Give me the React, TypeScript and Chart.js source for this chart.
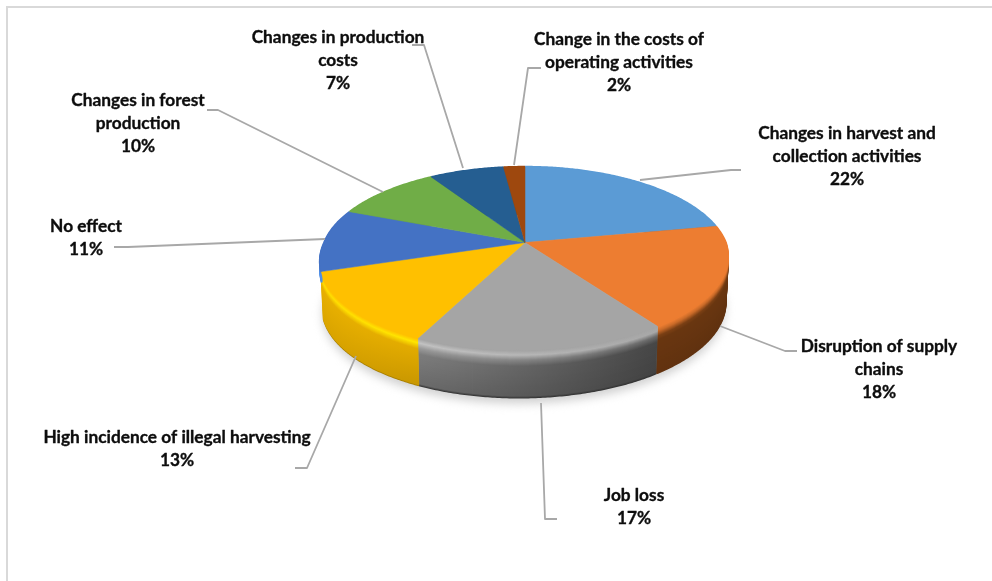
import React, { useEffect, useRef } from "react";
import { Chart, registerables } from "chart.js";

Chart.register(...registerables);

// Share of respondents per reported effect, clockwise from twelve o'clock.
const categories = [
  "Changes in harvest and collection activities",
  "Disruption of supply chains",
  "Job loss",
  "High incidence of illegal harvesting",
  "No effect",
  "Changes in forest production",
  "Changes in production costs",
  "Change in the costs of operating activities",
];
const shares = [22, 18, 17, 13, 11, 10, 7, 2];
const faceColors = ["#5b9bd5", "#ed7d31", "#a5a5a5", "#ffc000", "#4472c4", "#70ad47", "#255e91", "#9e480e"];

// Wrapped label text for each category.
const labelLines = [
  ["Changes in harvest and", "collection activities"],
  ["Disruption of supply", "chains"],
  ["Job loss"],
  ["High incidence of illegal harvesting"],
  ["No effect"],
  ["Changes in forest", "production"],
  ["Changes in production", "costs"],
  ["Change in the costs of", "operating activities"],
];
// Centre x and first-line centre y of every label block.
const labelAnchors = [
  [847, 133], [879, 346], [634, 495], [177, 437],
  [86, 226], [138, 100], [338, 37], [619, 39],
];
// Leader line vertices, from the pie outwards.
const leaders = [
  [[640, 180], [731, 170], [741, 170]],
  [[720, 326], [785, 351], [797, 351]],
  [[541, 403], [545, 519], [557, 519]],
  [[356, 356], [307, 468], [295, 468]],
  [[325, 239], [128, 247], [114, 247]],
  [[383, 192], [218, 110], [207, 110]],
  [[463, 168], [424, 45], [412, 45]],
  [[514, 165], [528, 68], [541, 68]],
];

type Stop = [number, string, string];
const hex = (c: string) => [1, 3, 5].map((i) => parseInt(c.slice(i, i + 2), 16));
const mix = (a: string, b: string, t: number) => {
  const x = hex(a), y = hex(b);
  return `rgb(${x.map((v, i) => Math.round(v + (y[i] - v) * t)).join(",")})`;
};

// Rim shading per slice: [drop below the face, colour at the slice's left, colour at its right].
const rimShades: Stop[][] = [
  [[0, "#5b9bd5", "#5b9bd5"], [2, "#4a6f90", "#4a6f90"], [47, "#2f5578", "#2f5578"]],
  [[0, "#ed7d31", "#ed7d31"], [4, "#c96a28", "#c96a28"], [9, "#7a3f14", "#7a3f14"], [13, "#693610", "#693610"], [47, "#62320f", "#5f310f"]],
  [[0, "#a5a5a5", "#a5a5a5"], [4, "#c2c2c2", "#a8a8a8"], [9, "#9a9a9a", "#6a6a6a"], [15, "#7d7d7d", "#464646"], [45, "#6b6b6b", "#424242"], [47, "#3a3a3a", "#333333"]],
  [[0, "#ffc000", "#ffc000"], [4, "#ffdd00", "#ffe600"], [10, "#e8b000", "#e2ab00"], [46, "#dba500", "#c99700"], [47, "#a98000", "#a98000"]],
  [[0, "#4472c4", "#4472c4"], [3, "#4f8fe6", "#4f8fe6"], [47, "#4680d8", "#4680d8"]],
  [[0, "#70ad47", "#70ad47"], [47, "#4c7530", "#4c7530"]],
  [[0, "#255e91", "#255e91"], [47, "#173a5a", "#173a5a"]],
  [[0, "#9e480e", "#9e480e"], [47, "#62300a", "#62300a"]],
];
// Visible wall height per slice; the left blue slice only shows a thin edge.
const wallHeights = [47, 47, 47, 47, 11, 47, 47, 47];

const shadeAt = (stops: Stop[], d: number, side: 1 | 2) => {
  for (let i = 1; i < stops.length; i++) {
    if (d <= stops[i][0]) {
      const t = (d - stops[i - 1][0]) / (stops[i][0] - stops[i - 1][0]);
      return mix(stops[i - 1][side], stops[i][side], t);
    }
  }
  return stops[stops.length - 1][side];
};

// Perspective projection of the pie's unit circle onto the tilted disc.
const APEX_X = 525;
const APEX_Y = 242.5;
const TILT = -0.1758;
const RX = 200.8;
const RY = 89;
const FRONT_LEAN = 6;
const DEPTH = 47;

const project = (angle: number, drop = 0) => {
  const u = Math.cos(angle);
  const v = Math.sin(angle);
  const w = 1 + TILT * v;
  const taper = 1 - 0.012 * (drop / DEPTH);
  const lean = FRONT_LEAN * Math.max(0, v);
  return [APEX_X + (RX * taper * u) / w - lean, APEX_Y + (RY * v) / w + drop];
};

const arcPoints = (start: number, end: number, drop = 0) => {
  const n = Math.max(2, Math.ceil((end - start) / 0.01));
  const pts: number[][] = [];
  for (let i = 0; i <= n; i++) pts.push(project(start + ((end - start) * i) / n, drop));
  return pts;
};

const tracePoints = (ctx: CanvasRenderingContext2D, pts: number[][], joined = false) => {
  pts.forEach(([x, y], i) => (i || joined ? ctx.lineTo(x, y) : ctx.moveTo(x, y)));
};

const traceWedge = (ctx: CanvasRenderingContext2D, start: number, end: number) => {
  ctx.beginPath();
  ctx.moveTo(APEX_X, APEX_Y);
  tracePoints(ctx, arcPoints(start, end), true);
  ctx.closePath();
};

// Draws the pie's arc elements as a perspective disc with a bevelled wall.
const disc3d = {
  id: "disc3d",
  beforeDatasetDraw(chart: Chart) {
    const ctx = chart.ctx;
    const arcs = chart.getDatasetMeta(0).data as any[];

    ctx.save();
    ctx.filter = "blur(5px)";
    ctx.fillStyle = "#d0d0d0";
    ctx.beginPath();
    tracePoints(ctx, arcPoints(0, Math.PI * 2, DEPTH + 6));
    ctx.closePath();
    ctx.fill();
    ctx.restore();

    arcs.forEach((arc, i) => {
      const { startAngle, endAngle } = arc;
      const base = arcPoints(startAngle, endAngle);
      const xs = base.map((p) => p[0]);
      const x0 = Math.min(...xs);
      const x1 = Math.max(...xs);
      ctx.save();
      ctx.lineWidth = 2;
      for (let d = wallHeights[i]; d >= 0; d--) {
        const g = ctx.createLinearGradient(x0, 0, x1 + 0.01, 0);
        g.addColorStop(0, shadeAt(rimShades[i], d, 1));
        g.addColorStop(1, shadeAt(rimShades[i], d, 2));
        ctx.strokeStyle = g;
        ctx.beginPath();
        tracePoints(ctx, arcPoints(startAngle, endAngle, d));
        ctx.stroke();
      }
      ctx.restore();
    });

    arcs.forEach((arc) => {
      const { startAngle, endAngle } = arc;
      ctx.fillStyle = arc.options.backgroundColor;
      ctx.strokeStyle = arc.options.backgroundColor;
      ctx.lineWidth = 0.5;
      traceWedge(ctx, startAngle, endAngle);
      ctx.fill();
      ctx.stroke();
    });

    return false;
  },
  afterDraw(chart: Chart) {
    const ctx = chart.ctx;
    ctx.save();
    ctx.strokeStyle = "#a8a8a8";
    ctx.lineWidth = 1.8;
    ctx.lineJoin = "round";
    leaders.forEach((pts) => {
      ctx.beginPath();
      tracePoints(ctx, pts);
      ctx.stroke();
    });

    ctx.fillStyle = "#0d0d0d";
    ctx.strokeStyle = "#0d0d0d";
    ctx.lineWidth = 0.35;
    ctx.font = 'bold 17.3px Lato, "Noto Sans", sans-serif';
    ctx.textAlign = "center";
    ctx.textBaseline = "middle";
    categories.forEach((_, i) => {
      const [x, y] = labelAnchors[i];
      const lines = [...labelLines[i], `${shares[i]}%`];
      lines.forEach((line, k) => {
        ctx.fillText(line, x, y + k * 23);
        ctx.strokeText(line, x, y + k * 23);
      });
    });
    ctx.restore();

    // Chart frame along the top and left edges.
    ctx.fillStyle = "#d9d9d9";
    ctx.fillRect(6, 6, 986, 2);
    ctx.fillRect(6, 6, 2, 575);
  },
};

export default function App() {
  const ref = useRef<HTMLCanvasElement>(null);

  useEffect(() => {
    const chart = new Chart(ref.current!, {
      type: "pie",
      data: {
        labels: categories,
        datasets: [{ data: shares, backgroundColor: faceColors, borderWidth: 0 }],
      },
      options: {
        responsive: false,
        animation: false,
        plugins: { legend: { display: false }, tooltip: { enabled: false } },
      },
      plugins: [disc3d as any],
    });
    return () => chart.destroy();
  }, []);

  return (
    <div style={{ position: "fixed", inset: 0, background: "#fff" }}>
      <canvas ref={ref} width={992} height={581} style={{ display: "block" }} />
    </div>
  );
}
